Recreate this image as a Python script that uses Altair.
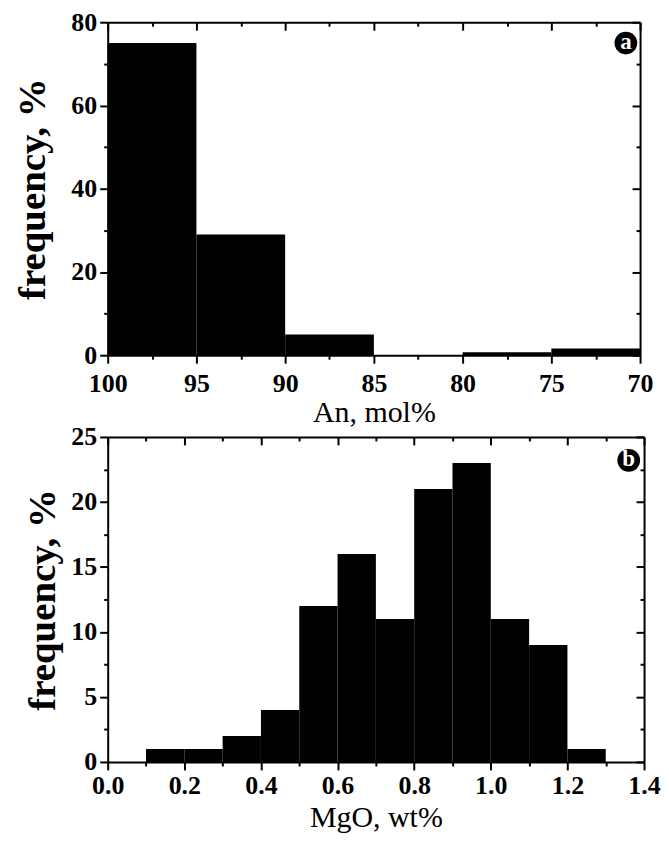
import altair as alt
import pandas as pd

# ---- data ----
an_lo = [95, 90, 85, 80, 75, 70]
an_hi = [100, 95, 90, 85, 80, 75]
an_freq = [75, 29, 5, 0, 0.7, 1.6]

mgo_lo = [0.1, 0.2, 0.3, 0.4, 0.5, 0.6, 0.7, 0.8, 0.9, 1.0, 1.1, 1.2]
mgo_hi = [0.2, 0.3, 0.4, 0.5, 0.6, 0.7, 0.8, 0.9, 1.0, 1.1, 1.2, 1.3]
mgo_freq = [1, 1, 2, 4, 12, 16, 11, 21, 23, 11, 9, 1]

an_ticks = [70, 72.5, 75, 77.5, 80, 82.5, 85, 87.5, 90, 92.5, 95, 97.5, 100]
an_yticks = [0, 10, 20, 30, 40, 50, 60, 70, 80]
mgo_ticks = [0.0, 0.1, 0.2, 0.3, 0.4, 0.5, 0.6, 0.7, 0.8, 0.9, 1.0, 1.1, 1.2, 1.3, 1.4]
mgo_yticks = [0, 2.5, 5, 7.5, 10, 12.5, 15, 17.5, 20, 22.5, 25]

FONT = "Liberation Serif"

df_a = pd.DataFrame({"lo": an_lo, "hi": an_hi, "freq": an_freq})
df_b = pd.DataFrame({"lo": mgo_lo, "hi": mgo_hi, "freq": mgo_freq})
lab_a = pd.DataFrame({"x": [70.8], "y": [75.0], "t": ["a"]})
lab_b = pd.DataFrame({"x": [1.36], "y": [23.2], "t": ["b"]})

COMMON = dict(
    grid=False, domainColor="black", domainWidth=2,
    tickColor="black", tickWidth=2,
    labelFont=FONT, labelFontWeight="bold", labelFontSize=26, labelColor="black",
    titleFont=FONT, titleColor="black",
)


def tsize(test, major=8, minor=4):
    return {"condition": {"test": test, "value": major}, "value": minor}


def panel(df, lab, xdom, xrev, xticks, xmaj, xfmt, xtitle, ydom, yticks, ymaj,
          W, H, ytitlepad, xlabpad, xtitlepad):
    xscale = alt.Scale(domain=xdom, reverse=xrev, nice=False, zero=False)
    yscale = alt.Scale(domain=ydom, nice=False)
    bars = alt.Chart(df).mark_rect(color="black", stroke=None).encode(
        x=alt.X("lo:Q", scale=xscale, title=xtitle,
                axis=alt.Axis(orient="bottom", values=xticks, format=xfmt,
                              labelExpr=f"{xmaj} ? datum.label : ''",
                              tickSize=tsize(xmaj),
                              labelPadding=xlabpad, titlePadding=xtitlepad,
                              titleFontSize=30, titleFontWeight="normal",
                              labelOverlap=False, labelFlush=False, **COMMON)),
        x2="hi:Q",
        y=alt.Y("freq:Q", scale=yscale, title="frequency, %",
                axis=alt.Axis(orient="left", values=yticks,
                              labelExpr=f"{ymaj} ? datum.label : ''",
                              tickSize=tsize(ymaj), labelPadding=3,
                              titlePadding=ytitlepad, titleFontSize=39,
                              titleFontWeight="bold",
                              labelOverlap=False, labelFlush=False, **COMMON)),
        y2=alt.datum(0),
    )
    mirror = alt.Chart(df).mark_rect(opacity=0).encode(
        x=alt.X("lo:Q", scale=xscale,
                axis=alt.Axis(orient="bottom", offset=-H, values=xticks,
                              labels=False, title=None, tickSize=tsize(xmaj),
                              grid=False, domainColor="black", domainWidth=2,
                              tickColor="black", tickWidth=2)),
        y=alt.Y("freq:Q", scale=yscale,
                axis=alt.Axis(orient="left", offset=-W, values=yticks,
                              labels=False, title=None, tickSize=tsize(ymaj),
                              grid=False, domainColor="black", domainWidth=2,
                              tickColor="black", tickWidth=2)),
    )
    dot = alt.Chart(lab).mark_point(shape="circle", filled=True, size=520,
                                    color="black", opacity=1).encode(
        x=alt.X("x:Q", scale=xscale, axis=None),
        y=alt.Y("y:Q", scale=yscale, axis=None),
    )
    txt = alt.Chart(lab).mark_text(color="white", font=FONT, fontWeight="bold",
                                   fontSize=23, baseline="middle", dy=-1).encode(
        x=alt.X("x:Q", scale=xscale, axis=None),
        y=alt.Y("y:Q", scale=yscale, axis=None),
        text="t:N",
    )
    return alt.layer(bars, mirror, dot, txt).resolve_axis(
        x="independent", y="independent").properties(width=W, height=H)


top = panel(df_a, lab_a, [70, 100], True, an_ticks, "datum.value % 5 === 0",
            "d", "An, mol%", [0, 80], an_yticks, "datum.value % 20 === 0",
            534, 334, 18, 7, 2)
bottom = panel(df_b, lab_b, [0, 1.4], False, mgo_ticks,
               "round(datum.value * 10) % 2 === 0", ".1f", "MgO, wt%",
               [0, 25], mgo_yticks, "datum.value % 5 === 0",
               538, 326, 8, 3, 4)

chart = alt.vconcat(top, bottom, spacing=-4).properties(
    padding={"left": 6, "top": 0, "right": 0, "bottom": 0}
).configure_view(stroke=None)

chart.save("out.html", embed_options={"renderer": "svg", "actions": False})
